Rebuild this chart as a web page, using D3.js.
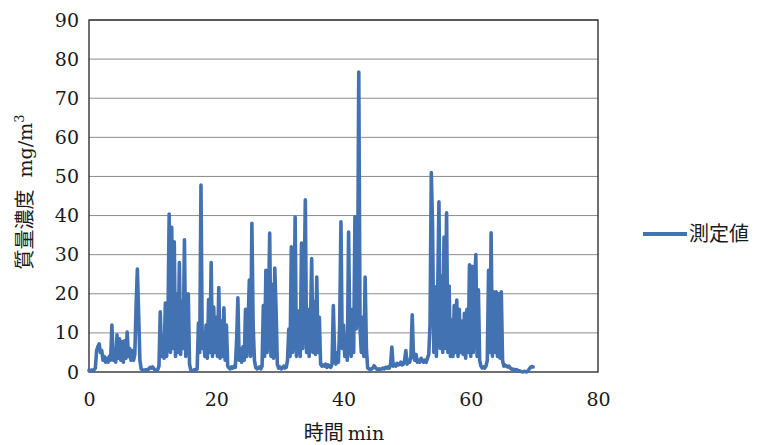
<!DOCTYPE html>
<html>
<head>
<meta charset="utf-8">
<script src="https://cdn.jsdelivr.net/npm/d3@7"></script>
<style>
  body { margin: 0; background: #fff; }
  svg { display: block; }
</style>
</head>
<body>
<div id="chart"></div>
<script>
// Sampling step of the measurement (min)
const step = 0.2;

// 質量濃度 mg/m3, one row per minute
const concentration = [
  0.4, 0.3, 0.5, 0.4, 0.6,
  1.0, 5.5, 6.5, 7.2, 5.0,
  5.5, 3.0, 4.0, 2.5, 3.5,
  2.5, 4.0, 3.0, 12.0, 3.0,
  4.0, 2.5, 9.5, 3.5, 8.5,
  3.0, 7.8, 2.5, 8.0, 3.5,
  10.2, 4.0, 6.0, 3.0, 5.5,
  3.0, 4.5, 16.6, 26.3, 15.0,
  3.0, 0.8, 0.5, 0.4, 0.5,
  0.6, 0.5, 0.8, 1.2, 1.0,
  1.3, 0.8, 0.5, 0.4, 0.6,
  1.5, 15.4, 4.0, 9.0, 3.5,
  17.6, 4.0, 12.0, 40.4, 5.0,
  37.0, 6.0, 33.3, 4.0, 20.0,
  5.0, 28.0, 4.5, 18.0, 6.0,
  33.8, 4.0, 12.0, 20.0, 2.0,
  0.5, 0.3, 0.4, 0.6, 0.5,
  0.8, 12.5, 5.0, 47.8, 6.0,
  10.0, 4.0, 12.0, 3.5, 18.5,
  5.0, 28.0, 4.0, 16.6, 5.0,
  14.0, 4.0, 21.6, 3.5, 13.0,
  4.0, 16.4, 3.0, 12.0, 1.5,
  1.0, 0.8, 1.3, 1.0, 1.5,
  1.2, 8.0, 19.0, 3.0, 6.0,
  2.5, 6.5, 3.0, 16.0, 4.0,
  12.5, 23.5, 4.0, 38.0, 12.0,
  3.0, 1.2, 0.8, 1.0, 1.3,
  0.8, 1.5, 17.0, 4.0, 26.0,
  5.0, 15.0, 35.5, 4.0, 22.4,
  3.5, 26.6, 16.0, 2.0, 1.0,
  1.3, 0.8, 1.0, 1.5, 1.0,
  1.2, 3.0, 11.0, 4.0, 32.0,
  5.0, 11.5, 39.6, 4.0, 15.6,
  15.6, 4.0, 33.0, 6.0, 20.0,
  44.0, 5.0, 16.0, 4.0, 12.0,
  29.0, 5.0, 18.0, 4.5, 24.3,
  5.0, 14.0, 2.0, 1.5, 1.8,
  1.5, 2.0, 1.2, 1.8, 1.5,
  1.2, 2.0, 17.0, 5.0, 2.0,
  5.0, 2.5, 12.0, 38.4, 6.0,
  12.0, 4.0, 8.0, 3.0, 35.8,
  8.0, 4.0, 16.0, 5.0, 39.7,
  11.0, 16.0, 76.7, 11.0, 5.0,
  14.0, 4.0, 24.3, 6.0, 1.0,
  0.8, 0.6, 0.8, 1.0, 1.6,
  1.2, 0.8, 0.6, 0.8, 0.7,
  0.8, 1.0, 0.8, 1.2, 1.0,
  1.3, 1.0, 2.0, 6.4, 1.5,
  2.0, 1.5, 2.2, 1.8, 2.0,
  2.5, 1.8, 2.0, 3.0, 5.5,
  2.0, 3.0, 2.5, 4.0, 14.6,
  4.0, 3.0, 4.5, 2.5, 3.0,
  2.5, 3.5, 3.0, 2.5, 3.0,
  2.5, 3.5, 4.5, 12.0, 51.0,
  37.0, 5.0, 21.8, 4.0, 20.0,
  43.5, 6.0, 24.6, 5.0, 34.5,
  6.0, 40.7, 5.0, 22.0, 4.0,
  13.3, 4.0, 17.0, 5.0, 18.4,
  4.0, 16.0, 5.0, 13.0, 4.5,
  15.0, 3.5, 16.0, 5.0, 27.4,
  4.0, 27.0, 5.0, 22.0, 30.0,
  4.0, 21.0, 3.0, 1.5, 1.0,
  1.3, 1.0, 1.5, 3.0, 26.0,
  5.0, 35.6, 4.0, 20.5, 5.0,
  20.5, 4.0, 20.0, 3.5, 20.5,
  3.0, 1.5, 1.8, 1.5, 1.3,
  1.5, 1.0, 0.8, 0.6, 0.7,
  0.5, 0.6, 0.4, 0.3, 0.2,
  0.1, 0.0, 0.2, 0.1, 0.0,
  0.3, 0.8, 1.2, 1.4, 1.3
];

const xTicks = [0, 20, 40, 60, 80];
const yTicks = [0, 10, 20, 30, 40, 50, 60, 70, 80, 90];
const seriesName = "測定値";

const width = 758, height = 445;
const serif = "'DejaVu Serif', 'Liberation Serif', serif";
const jp = "'Noto Sans CJK JP', sans-serif";
const lineColor = "#4372b2";
const textColor = "#1a1a1a";

const svg = d3.select('#chart')
    .append('svg')
    .attr('width', width)
    .attr('height', height);

const x = d3.scaleLinear().domain([0, 80]).range([89, 598]);
const y = d3.scaleLinear().domain([0, 90]).range([372, 20]);

// Gridlines
svg.append('g')
    .selectAll('line')
    .data(yTicks.slice(1))
    .join('line')
    .attr('x1', x(0))
    .attr('x2', x(80))
    .attr('y1', d => y(d))
    .attr('y2', d => y(d))
    .attr('stroke', '#8c8c8c')
    .attr('stroke-width', 1);

// Plot frame
svg.append('rect')
    .attr('x', x(0))
    .attr('y', y(90))
    .attr('width', x(80) - x(0))
    .attr('height', y(0) - y(90))
    .attr('fill', 'none')
    .attr('stroke', '#222')
    .attr('stroke-width', 1.3);

// Y axis labels
const yAxis = svg.append('g')
    .attr('transform', `translate(${x(0)},0)`)
    .call(d3.axisLeft(y).tickValues(yTicks).tickSize(0).tickPadding(10));
yAxis.select('.domain').remove();
yAxis.selectAll('text')
    .attr('font-family', serif)
    .attr('font-size', 19)
    .attr('fill', textColor);

// X axis labels
const xAxis = svg.append('g')
    .attr('transform', `translate(0,${y(0)})`)
    .call(d3.axisBottom(x).tickValues(xTicks).tickSize(0).tickPadding(21));
xAxis.select('.domain').remove();
xAxis.selectAll('text')
    .attr('font-family', serif)
    .attr('font-size', 19)
    .attr('fill', textColor);

// Series line
const line = d3.line()
    .x((d, i) => x(i * step))
    .y(d => y(d));

svg.append('path')
    .datum(concentration)
    .attr('d', line)
    .attr('fill', 'none')
    .attr('stroke', lineColor)
    .attr('stroke-width', 3.6)
    .attr('stroke-linejoin', 'round')
    .attr('stroke-linecap', 'round');

// Y axis title
const yTitle = svg.append('text')
    .attr('transform', 'translate(32,192) rotate(-90)')
    .attr('text-anchor', 'middle')
    .attr('fill', textColor)
    .attr('font-size', 20);
yTitle.append('tspan').attr('font-family', jp).text('質量濃度');
yTitle.append('tspan').attr('font-family', serif).attr('font-size', 19).attr('dx', 12).text('mg/m');
yTitle.append('tspan').attr('font-family', serif).attr('font-size', 13).attr('dy', -8).text('3');

// X axis title
const xTitle = svg.append('text')
    .attr('x', 344)
    .attr('y', 440)
    .attr('text-anchor', 'middle')
    .attr('fill', textColor)
    .attr('font-size', 20);
xTitle.append('tspan').attr('font-family', jp).text('時間');
xTitle.append('tspan').attr('font-family', serif).attr('font-size', 19).attr('dx', 4).text('min');

// Legend
const legend = svg.append('g');
legend.append('line')
    .attr('x1', 643).attr('x2', 687)
    .attr('y1', 234).attr('y2', 234)
    .attr('stroke', lineColor)
    .attr('stroke-width', 4);
legend.append('text')
    .attr('x', 689)
    .attr('y', 241)
    .attr('font-family', jp)
    .attr('font-size', 20)
    .attr('fill', textColor)
    .text(seriesName);
</script>
</body>
</html>
